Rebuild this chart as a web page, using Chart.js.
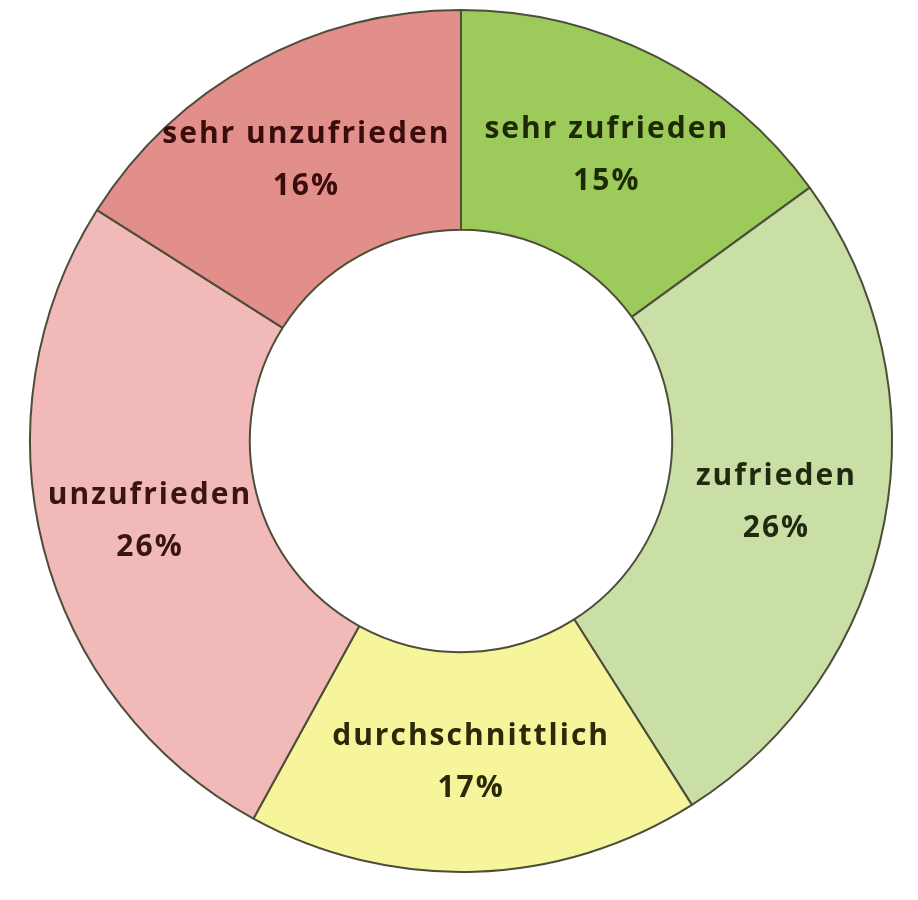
<!DOCTYPE html>
<html>
<head>
<meta charset="utf-8">
<script src="https://cdn.jsdelivr.net/npm/chart.js@4/dist/chart.umd.min.js"></script>
<style>
html,body{margin:0;padding:0;background:#fff;}
#wrap{width:918px;height:900px;}
</style>
</head>
<body>
<div id="wrap"><canvas id="c" width="918" height="900"></canvas></div>
<script>
const categories = ["sehr zufrieden", "zufrieden", "durchschnittlich", "unzufrieden", "sehr unzufrieden"];
const values = [15, 26, 17, 26, 16];
const sliceColors = ["#9dcb5b", "#c9dfa5", "#f6f59c", "#f1b9b8", "#e28e8b"];
const textColors = ["#1d2a05", "#1f2a0f", "#2a2a08", "#3a1414", "#3a0c0c"];

const labelPlugin = {
  id: 'sliceLabels',
  afterDatasetsDraw(chart) {
    const ctx = chart.ctx;
    const meta = chart.getDatasetMeta(0);
    ctx.save();
    ctx.font = 'bold 30px "Open Sans", sans-serif';
    if ('letterSpacing' in ctx) ctx.letterSpacing = '2px';
    ctx.textAlign = 'center';
    ctx.textBaseline = 'middle';
    meta.data.forEach((arc, i) => {
      const p = arc.tooltipPosition();
      ctx.fillStyle = textColors[i];
      ctx.fillText(categories[i], p.x, p.y - 25);
      ctx.fillText(values[i] + '%', p.x, p.y + 27);
    });
    ctx.restore();
  }
};

new Chart(document.getElementById('c'), {
  type: 'doughnut',
  data: {
    labels: categories,
    datasets: [{
      data: values,
      backgroundColor: sliceColors,
      borderColor: '#4d4d3a',
      borderWidth: 2
    }]
  },
  options: {
    responsive: false,
    animation: false,
    cutout: '49%',
    layout: { padding: { left: 29, right: 25, top: 9, bottom: 27 } },
    plugins: { legend: { display: false }, tooltip: { enabled: false } }
  },
  plugins: [labelPlugin]
});
</script>
</body>
</html>
